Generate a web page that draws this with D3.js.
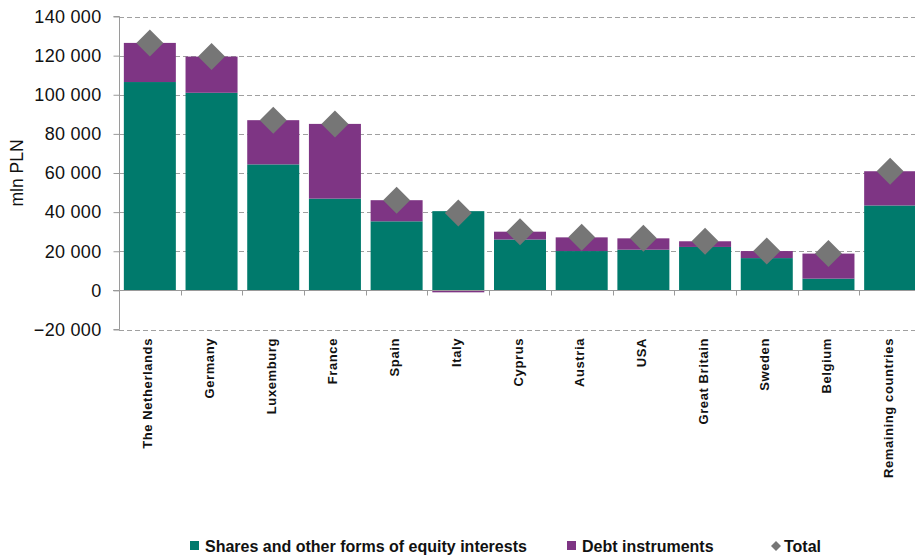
<!DOCTYPE html>
<html>
<head>
<meta charset="utf-8">
<script src="https://cdn.jsdelivr.net/npm/d3@7"></script>
<style>
body { margin: 0; background: #fff; }
svg { font-family: "Liberation Sans", Arial, sans-serif; }
</style>
</head>
<body>
<div id="bars"></div>
<script>
// values in mln PLN
var categories = ["The Netherlands", "Germany", "Luxemburg", "France", "Spain", "Italy", "Cyprus",
  "Austria", "USA", "Great Britain", "Sweden", "Belgium", "Remaining countries"];
var equity = [106500, 101000, 64400, 46900, 35300, 40500, 26000, 20100, 20800, 22200, 16500, 6000, 43400];
var debt = [20000, 18500, 22600, 38200, 10800, -1000, 4000, 7000, 5800, 2900, 3600, 12800, 17500];
var total = [126500, 119500, 87000, 85100, 46100, 39500, 30000, 27100, 26600, 25100, 20100, 18800, 60900];
var yTicks = [-20000, 0, 20000, 40000, 60000, 80000, 100000, 120000, 140000];
var seriesNames = ["Shares and other forms of equity interests", "Debt instruments", "Total"];

var colors = { equity: "#007a6c", debt: "#7e3584", total: "#767676" };

var width = 915, height = 557;

var svg = d3.select("#bars")
  .append("svg")
  .attr("width", width)
  .attr("height", height);

var x = d3.scaleBand()
  .domain(categories)
  .range([119, 921])
  .paddingInner(0.157)
  .paddingOuter(0.0785);

var y = d3.scaleLinear()
  .domain([-20000, 140000])
  .range([329.5, 16.5]);

var fmt = function (d) { return d3.format(",")(d).replace(/,/g, " "); };

// dashed grid
svg.append("g")
  .selectAll("line")
  .data(yTicks.filter(function (d) { return d !== 0; }))
  .enter()
  .append("line")
  .attr("x1", 119)
  .attr("x2", width)
  .attr("y1", function (d) { return Math.round(y(d)) + 0.5; })
  .attr("y2", function (d) { return Math.round(y(d)) + 0.5; })
  .attr("stroke", "#a0a0a0")
  .attr("stroke-dasharray", "5,3");

// y axis
var yAxis = svg.append("g")
  .attr("transform", "translate(119.5,0)")
  .call(d3.axisLeft(y).tickValues(yTicks).tickFormat(fmt).tickSize(6).tickPadding(12));
yAxis.select(".domain").attr("stroke", "#9a9a9a").attr("d", "M-6," + y(140000) + "H0V" + y(-20000) + "H-6");
yAxis.selectAll(".tick line").attr("stroke", "#9a9a9a");
yAxis.selectAll("text")
  .style("font-size", "18px")
  .style("letter-spacing", "0.3px")
  .attr("fill", "#111");

svg.append("text")
  .attr("transform", "translate(23," + 173 + ") rotate(-90)")
  .attr("text-anchor", "middle")
  .style("font-size", "17.5px")
  .attr("fill", "#111")
  .text("mln PLN");

// stacked bars
var table = categories.map(function (c, i) {
  return { country: c, equity: equity[i], debt: debt[i], total: total[i] };
});
var stack = d3.stack().keys(["equity", "debt"]).offset(d3.stackOffsetDiverging);
var layers = stack(table);

svg.append("g")
  .selectAll("g")
  .data(layers)
  .enter()
  .append("g")
  .attr("fill", function (d) { return colors[d.key]; })
  .selectAll("rect")
  .data(function (d) { return d; })
  .enter()
  .append("rect")
  .attr("x", function (d) { return x(d.data.country); })
  .attr("y", function (d) { return y(Math.max(d[0], d[1])); })
  .attr("width", x.bandwidth())
  .attr("height", function (d) { return Math.abs(y(d[0]) - y(d[1])); });

// zero line with category ticks
var zeroY = Math.round(y(0)) + 0.5;
svg.append("line")
  .attr("x1", 113).attr("x2", width)
  .attr("y1", zeroY).attr("y2", zeroY)
  .attr("stroke", "#9a9a9a");
svg.append("g")
  .selectAll("line")
  .data(categories.slice(1))
  .enter()
  .append("line")
  .attr("x1", function (d) { return Math.round(x(d) - x.step() * x.paddingInner() / 2) + 0.5; })
  .attr("x2", function (d) { return Math.round(x(d) - x.step() * x.paddingInner() / 2) + 0.5; })
  .attr("y1", zeroY).attr("y2", zeroY + 5)
  .attr("stroke", "#9a9a9a");

// total markers
svg.append("g")
  .selectAll("path")
  .data(table)
  .enter()
  .append("path")
  .attr("d", "M0,-13.5L13.5,0L0,13.5L-13.5,0Z")
  .attr("transform", function (d) { return "translate(" + (x(d.country) + x.bandwidth() / 2) + "," + y(d.total) + ")"; })
  .attr("fill", colors.total);

// category labels
svg.append("g")
  .selectAll("text")
  .data(categories)
  .enter()
  .append("text")
  .attr("transform", function (d) { return "translate(" + (x(d) + x.bandwidth() / 2 - 2) + ",338) rotate(-90)"; })
  .attr("text-anchor", "end")
  .attr("dy", "0.35em")
  .style("font-size", "13px")
  .style("font-weight", "bold")
  .style("letter-spacing", "0.6px")
  .attr("fill", "#111")
  .text(function (d) { return d; });

// legend
var legendX = [190, 567, 772];
var legend = svg.append("g").attr("transform", "translate(0,546)");
legend.append("rect").attr("x", legendX[0]).attr("y", -5).attr("width", 9).attr("height", 9).attr("fill", colors.equity);
legend.append("rect").attr("x", legendX[1]).attr("y", -5).attr("width", 9).attr("height", 9).attr("fill", colors.debt);
legend.append("path").attr("d", "M0,-5L5,0L0,5L-5,0Z").attr("transform", "translate(" + (legendX[2] + 4) + ",0)").attr("fill", colors.total);
legend.selectAll("text")
  .data(seriesNames)
  .enter()
  .append("text")
  .attr("x", function (d, i) { return legendX[i] + (i === 2 ? 12 : 15); })
  .attr("dy", "0.35em")
  .style("font-size", "16px")
  .style("font-weight", "bold")
  .attr("fill", "#111")
  .text(function (d) { return d; });
</script>
</body>
</html>
